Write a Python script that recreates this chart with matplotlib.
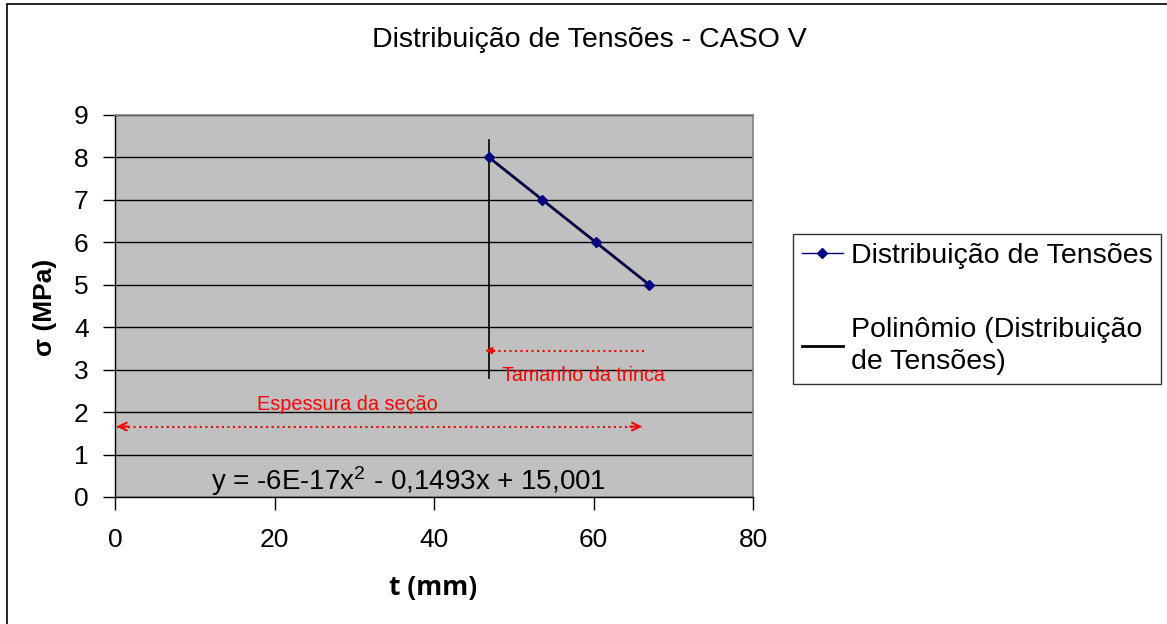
import numpy as np
import matplotlib
matplotlib.use("Agg")
import matplotlib.pyplot as plt
from matplotlib.patches import Rectangle
from matplotlib.lines import Line2D

# ---- data ----
t_mm = [46.9, 53.6, 60.3, 67.0]
sigma = [8, 7, 6, 5]
x_ticks = [0, 20, 40, 60, 80]
y_ticks = [0, 1, 2, 3, 4, 5, 6, 7, 8, 9]
title = "Distribuição de Tensões - CASO V"
series_label = "Distribuição de Tensões"
trend_label = "Polinômio (Distribuição\nde Tensões)"
equation = "y = -6E-17x$^2$ - 0,1493x + 15,001"
crack_x = 46.9
crack_y = [2.8, 8.4]
crack_arrow = [66.3, 46.4, 3.45]
section_arrow = [0.2, 66.1, 1.66]

plt.rcParams['font.family'] = ['Liberation Sans', 'DejaVu Sans']
plt.rcParams['mathtext.fontset'] = 'custom'
plt.rcParams['mathtext.rm'] = 'Liberation Sans'
plt.rcParams['mathtext.it'] = 'Liberation Sans'

W, H = 1167, 624
fig = plt.figure(figsize=(W / 100, H / 100), dpi=100)
ax = fig.add_axes([115 / W, 1 - 497 / H, 638 / W, 382 / H])
ax.set_facecolor('#C0C0C0')
ax.set_xlim(0, 80)
ax.set_ylim(0, 9)
ax.set_xticks(x_ticks)
ax.set_yticks(y_ticks)
ax.tick_params(axis='both', labelsize=19, direction='out', length=9, width=1, color='black')
ax.tick_params(axis='x', pad=13)
ax.tick_params(axis='y', pad=10)
ax.grid(axis='y', color='black', linewidth=1)
ax.set_axisbelow(True)
for s in ['top', 'right']:
    ax.spines[s].set_color('#808080')
    ax.spines[s].set_linewidth(1.2)
for s in ['left', 'bottom']:
    ax.spines[s].set_color('black')
    ax.spines[s].set_linewidth(1)

# series
ax.plot(t_mm, sigma, color='#000080', linewidth=1, marker='D', markersize=5,
        markerfacecolor='#000080', markeredgecolor='#000080', zorder=4)
# trendline
coef = np.polyfit(t_mm, sigma, 1)
xs = np.array([min(t_mm), max(t_mm)])
ax.plot(xs, np.polyval(coef, xs), color='black', linewidth=2, zorder=3)

# crack vertical line
ax.plot([crack_x, crack_x], crack_y, color='black', linewidth=1.2, zorder=3)

# crack arrow (dotted, filled head on left)
x0, x1, ya = crack_arrow
ax.plot([x0, x1 + 0.6], [ya, ya], color='red', linestyle=':', linewidth=1.5, zorder=5)
ax.annotate('', xy=(x1, ya), xytext=(x1 + 1.2, ya),
            arrowprops=dict(arrowstyle='-|>', color='red', lw=1.2,
                            mutation_scale=10, shrinkA=0, shrinkB=0), zorder=5)
ax.text(48.5, 2.87, "Tamanho da trinca", color='red', fontsize=14.2, ha='left', va='center')

# section arrow (dotted, open heads both sides)
s0, s1, ys = section_arrow
ax.plot([s0, s1], [ys, ys], color='red', linestyle=':', linewidth=1.5, zorder=5)
ax.annotate('', xy=(s0, ys), xytext=(s0 + 1.5, ys),
            arrowprops=dict(arrowstyle='->', color='red', lw=1.5,
                            mutation_scale=14, shrinkA=0, shrinkB=0), zorder=5)
ax.annotate('', xy=(s1, ys), xytext=(s1 - 1.5, ys),
            arrowprops=dict(arrowstyle='->', color='red', lw=1.5,
                            mutation_scale=14, shrinkA=0, shrinkB=0), zorder=5)
ax.text(17.8, 2.17, "Espessura da seção", color='red', fontsize=14.3, ha='left', va='center')

# equation
ax.text(12.0, 0.38, equation, fontsize=20, ha='left', va='center', color='black')

# title and axis labels
fig.text(589 / W, 1 - 40 / H, title, fontsize=20.5, ha='center', va='center')
fig.text(45 / W, 1 - 307 / H, "σ (MPa)", fontsize=19, fontweight='bold',
         rotation=90, ha='center', va='center')
fig.text(433 / W, 1 - 588 / H, "t (mm)", fontsize=19, fontweight='bold',
         ha='center', va='center', family=['Open Sans', 'DejaVu Sans'])

# legend
handles = [Line2D([], [], color='#000080', linewidth=1, marker='D', markersize=5),
           Line2D([], [], color='black', linewidth=2)]
leg = fig.legend(handles, [series_label, trend_label], loc='upper left',
                 bbox_to_anchor=(793 / W, 1 - 234 / H), fontsize=20.5,
                 frameon=True, fancybox=False, edgecolor='black',
                 handlelength=1.45, handletextpad=0.28, labelspacing=1.7,
                 borderpad=0.3, borderaxespad=0)
for txt in leg.get_texts():
    txt.set_linespacing(1.32)
leg.get_frame().set_linewidth(1)

# figure border
fig.add_artist(Rectangle((7 / W, -0.1), 1.2, 1.1 - 4 / H, transform=fig.transFigure,
                         fill=False, edgecolor='black', linewidth=1.2))

fig.savefig('out.png', dpi=100)
